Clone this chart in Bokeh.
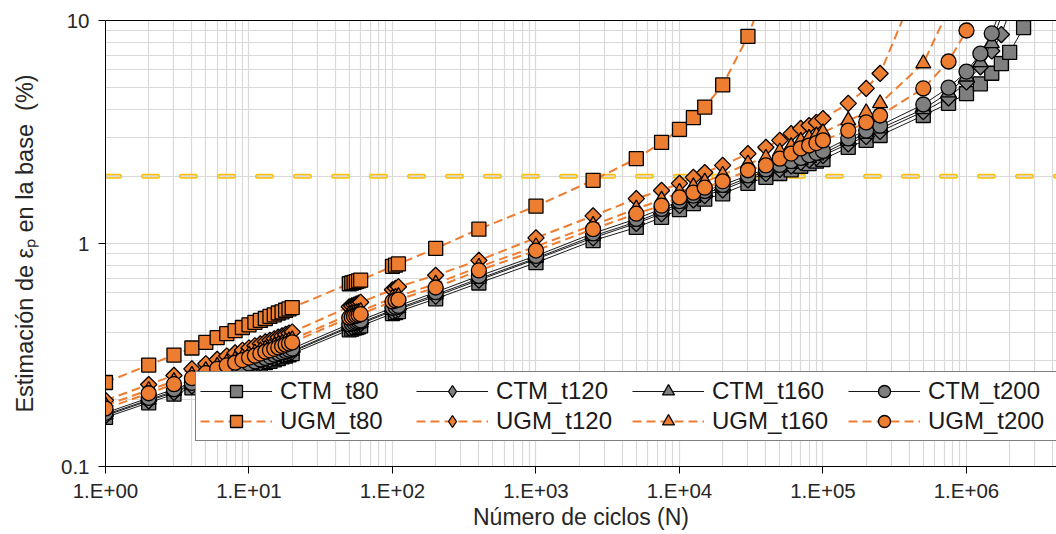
import numpy as np
from bokeh.plotting import figure
from bokeh.models import (Range1d, FixedTicker, CustomJSTickFormatter, Legend,
                          LegendItem, Span, LogAxis)
from bokeh.embed import file_html
from bokeh.resources import INLINE

# ---------------- data ----------------
N = [1, 2, 3, 4, 5, 6, 7, 8, 9, 10, 11, 12, 13, 14, 15, 16, 17, 18, 19, 20,
     50, 52, 54, 56, 58, 60,
     100, 105, 110,
     200, 400, 1000, 2500, 5000, 7500, 10000, 12500, 15000, 20000,
     30000, 40000, 50000, 60000, 70000, 80000, 90000, 100000,
     150000, 200000, 250000, 500000, 750000, 1000000,
     1250000, 1500000, 1750000, 2000000, 2500000]

CTM_t80 = [0.166, 0.193, 0.211, 0.225, 0.237, 0.246, 0.255, 0.262, 0.269, 0.275,
           0.281, 0.287, 0.292, 0.296, 0.301, 0.305, 0.310, 0.313, 0.317, 0.321,
           0.410, 0.413, 0.417, 0.420, 0.423, 0.427,
           0.485, 0.490, 0.495,
           0.565, 0.665, 0.820, 1.03, 1.18, 1.31, 1.42, 1.51, 1.58, 1.67,
           1.86, 1.98, 2.06, 2.14, 2.22, 2.28, 2.34, 2.38,
           2.70, 2.90, 3.05, 3.75, 4.25, 4.70,
           5.20, 5.80, 6.40, 7.20, 9.30]
CTM_t120 = [0.169, 0.197, 0.215, 0.230, 0.241, 0.251, 0.260, 0.267, 0.274, 0.281,
            0.287, 0.292, 0.297, 0.302, 0.307, 0.311, 0.316, 0.319, 0.323, 0.327,
            0.420, 0.423, 0.427, 0.430, 0.433, 0.437,
            0.497, 0.502, 0.507,
            0.580, 0.685, 0.850, 1.06, 1.23, 1.36, 1.48, 1.57, 1.64, 1.74,
            1.93, 2.06, 2.15, 2.23, 2.31, 2.37, 2.43, 2.48,
            2.80, 3.02, 3.18, 3.90, 4.50, 5.30,
            6.20, 7.30, 8.65, 11.0]
CTM_t160 = [0.171, 0.199, 0.218, 0.232, 0.244, 0.254, 0.263, 0.270, 0.277, 0.284,
            0.290, 0.295, 0.301, 0.305, 0.310, 0.315, 0.319, 0.323, 0.327, 0.330,
            0.425, 0.428, 0.432, 0.435, 0.438, 0.442,
            0.503, 0.508, 0.513,
            0.590, 0.695, 0.860, 1.08, 1.25, 1.39, 1.51, 1.60, 1.68, 1.78,
            1.97, 2.10, 2.19, 2.28, 2.36, 2.42, 2.48, 2.53,
            2.88, 3.10, 3.28, 4.00, 4.75, 5.60,
            6.50, 7.90, 10.5]
CTM_t200 = [0.174, 0.203, 0.222, 0.237, 0.249, 0.259, 0.268, 0.276, 0.283, 0.290,
            0.296, 0.302, 0.307, 0.312, 0.317, 0.322, 0.326, 0.330, 0.334, 0.338,
            0.435, 0.438, 0.442, 0.445, 0.448, 0.452,
            0.515, 0.520, 0.525,
            0.605, 0.715, 0.880, 1.11, 1.29, 1.43, 1.55, 1.64, 1.72, 1.83,
            2.02, 2.15, 2.25, 2.34, 2.42, 2.49, 2.55, 2.60,
            2.96, 3.21, 3.38, 4.20, 5.00, 5.90,
            7.10, 8.75, 11.5]
UGM_t80 = [0.238, 0.285, 0.316, 0.340, 0.360, 0.378, 0.394, 0.407, 0.420, 0.432,
           0.443, 0.452, 0.461, 0.471, 0.479, 0.488, 0.494, 0.502, 0.509, 0.516,
           0.660, 0.665, 0.670, 0.675, 0.680, 0.685,
           0.790, 0.800, 0.810,
           0.950, 1.16, 1.47, 1.92, 2.40, 2.84, 3.25, 3.67, 4.09, 5.14,
           8.48, 14.0]
UGM_t120 = [0.198, 0.233, 0.256, 0.274, 0.289, 0.302, 0.313, 0.323, 0.332, 0.340,
            0.348, 0.355, 0.362, 0.368, 0.374, 0.380, 0.385, 0.391, 0.396, 0.401,
            0.520, 0.525, 0.530, 0.535, 0.540, 0.545,
            0.620, 0.630, 0.640,
            0.720, 0.840, 1.06, 1.33, 1.59, 1.73, 1.86, 1.98, 2.08, 2.24,
            2.53, 2.70, 2.90, 3.11, 3.28, 3.38, 3.49, 3.63,
            4.25, 4.96, 5.79, 16.8]
UGM_t160 = [0.188, 0.220, 0.241, 0.257, 0.270, 0.282, 0.292, 0.301, 0.309, 0.317,
            0.324, 0.331, 0.337, 0.342, 0.347, 0.353, 0.358, 0.363, 0.367, 0.371,
            0.480, 0.483, 0.487, 0.490, 0.493, 0.497,
            0.570, 0.575, 0.580,
            0.660, 0.785, 0.970, 1.21, 1.43, 1.57, 1.70, 1.80, 1.89, 2.03,
            2.28, 2.42, 2.58, 2.73, 2.88, 2.97, 3.05, 3.15,
            3.56, 3.87, 4.25, 6.42, 11.2]
UGM_t200 = [0.182, 0.213, 0.234, 0.249, 0.262, 0.274, 0.284, 0.292, 0.300, 0.308,
            0.314, 0.321, 0.327, 0.332, 0.337, 0.342, 0.347, 0.352, 0.356, 0.360,
            0.465, 0.468, 0.472, 0.475, 0.478, 0.482,
            0.550, 0.555, 0.560,
            0.635, 0.757, 0.930, 1.16, 1.36, 1.48, 1.61, 1.69, 1.78, 1.90,
            2.13, 2.24, 2.40, 2.53, 2.67, 2.75, 2.82, 2.90,
            3.21, 3.49, 3.75, 4.96, 6.55, 9.02, 13.5]

THRESHOLD = 2.0
X_TICKS = [1, 10, 100, 1000, 10000, 100000, 1000000]
Y_TICKS = [0.1, 1, 10]

SERIES = [("CTM_t80", CTM_t80), ("CTM_t120", CTM_t120), ("CTM_t160", CTM_t160), ("CTM_t200", CTM_t200),
          ("UGM_t80", UGM_t80), ("UGM_t120", UGM_t120), ("UGM_t160", UGM_t160), ("UGM_t200", UGM_t200)]

# ---------------- styling ----------------
GRAY = "#7f7f7f"
ORANGE = "#ed7d31"
GRID = "#d9d9d9"
FONT = "Liberation Sans"
MARK = {"t80": dict(marker="square", size=14, angle=0.0),
        "t120": dict(marker="square", size=11.5, angle=np.pi / 4),
        "t160": dict(marker="triangle", size=15, angle=0.0),
        "t200": dict(marker="circle", size=15, angle=0.0)}

p = figure(frame_width=951, frame_height=446, x_axis_type="log", y_axis_type="log",
           x_range=Range1d(1, 4.24e6), y_range=Range1d(0.1, 10),
           output_backend="svg", toolbar_location=None,
           min_border_left=105, min_border_right=0, min_border_top=20, min_border_bottom=66,
           background_fill_color="white", border_fill_color="white")
p.outline_line_color = None

x_minor = [m * 10 ** k for k in range(0, 7) for m in range(2, 10)]
y_minor = [m * 10 ** k for k in (-1, 0) for m in range(2, 10)]
p.xaxis.ticker = FixedTicker(ticks=X_TICKS, minor_ticks=x_minor)
p.yaxis.ticker = FixedTicker(ticks=Y_TICKS, minor_ticks=y_minor)
p.xgrid.ticker = p.xaxis.ticker
p.ygrid.ticker = p.yaxis.ticker
p.xaxis.formatter = CustomJSTickFormatter(code="""
const e = Math.round(Math.log10(tick));
return "1.E+" + (e < 10 ? "0" + e : "" + e);""")
p.yaxis.formatter = CustomJSTickFormatter(code="return tick >= 1 ? tick.toFixed(0) : tick.toFixed(1);")

for g in (p.xgrid, p.ygrid):
    g.grid_line_color = GRID
    g.minor_grid_line_color = GRID
    g.grid_line_width = 1.2
    g.minor_grid_line_width = 1.2

for ax in (p.xaxis, p.yaxis):
    ax.axis_line_color = "black"
    ax.axis_line_width = 1
    ax.major_tick_line_color = "black"
    ax.major_tick_out = 7
    ax.major_tick_in = 0
    ax.minor_tick_line_color = None
    ax.major_label_text_font = FONT
    ax.major_label_text_font_size = "20.5px"
    ax.major_label_text_color = "#262626"
    ax.axis_label_text_font = FONT
    ax.axis_label_text_font_size = "23px"
    ax.axis_label_text_font_style = "normal"
    ax.axis_label_text_color = "#262626"

p.xaxis.axis_label = "Número de ciclos (N)"
p.yaxis.axis_label = "Estimación de εₚ en la base \u00a0(%)"
p.yaxis.axis_label_text_font_size = "23.5px"
p.xaxis.major_label_standoff = 5
p.xaxis.axis_label_standoff = -1
p.yaxis.major_label_standoff = 9
p.yaxis.axis_label_standoff = 20

top = LogAxis(ticker=FixedTicker(ticks=[]), axis_line_color="black",
              major_tick_line_color=None, minor_tick_line_color=None,
              major_label_text_font_size="0px")
p.add_layout(top, "above")

# threshold line (yellow dashes with light interior)
p.add_layout(Span(location=THRESHOLD, dimension="width", line_color="#ffc000",
                  line_width=5, line_dash="14 24", line_cap="round", level="underlay"))
p.add_layout(Span(location=THRESHOLD, dimension="width", line_color=GRID,
                  line_width=2, line_dash="14 24", line_cap="round", level="underlay"))

items = []
for name, vals in SERIES:
    xs = N[:len(vals)]
    st = MARK[name.split("_")[1]]
    if name.startswith("CTM"):
        lr = p.line(xs, vals, line_color="#1a1a1a", line_width=1)
        fill = GRAY
    else:
        lr = p.line(xs, vals, line_color=ORANGE, line_width=2, line_dash="9 5")
        fill = ORANGE
    sr = p.scatter(xs, vals, marker=st["marker"], size=st["size"], angle=st["angle"],
                   fill_color=fill, line_color="black", line_width=1.3)
    if st["angle"] != 0.0:
        # legend markers are never rotated: use a (hidden) diamond twin for the legend
        sr_leg = p.scatter(xs, vals, marker="diamond", size=st["size"],
                           fill_color=fill, line_color="black", line_width=1.3, visible=False)
        items.append(LegendItem(label=name, renderers=[lr, sr_leg]))
    else:
        items.append(LegendItem(label=name, renderers=[lr, sr]))

legend = Legend(items=items, location=(90, 25), orientation="horizontal", ncols=4,
                label_text_font=FONT, label_text_font_size="24px", label_text_color="#1a1a1a",
                glyph_width=72, glyph_height=30, label_standoff=8, label_width=136, label_height=20,
                spacing=-1, padding=4, margin=0, border_line_color="black", border_line_width=1,
                background_fill_color="white", background_fill_alpha=1.0,
                inactive_fill_alpha=0.0)
p.add_layout(legend, "center")

open("out.html", "w").write(file_html(p, INLINE))
